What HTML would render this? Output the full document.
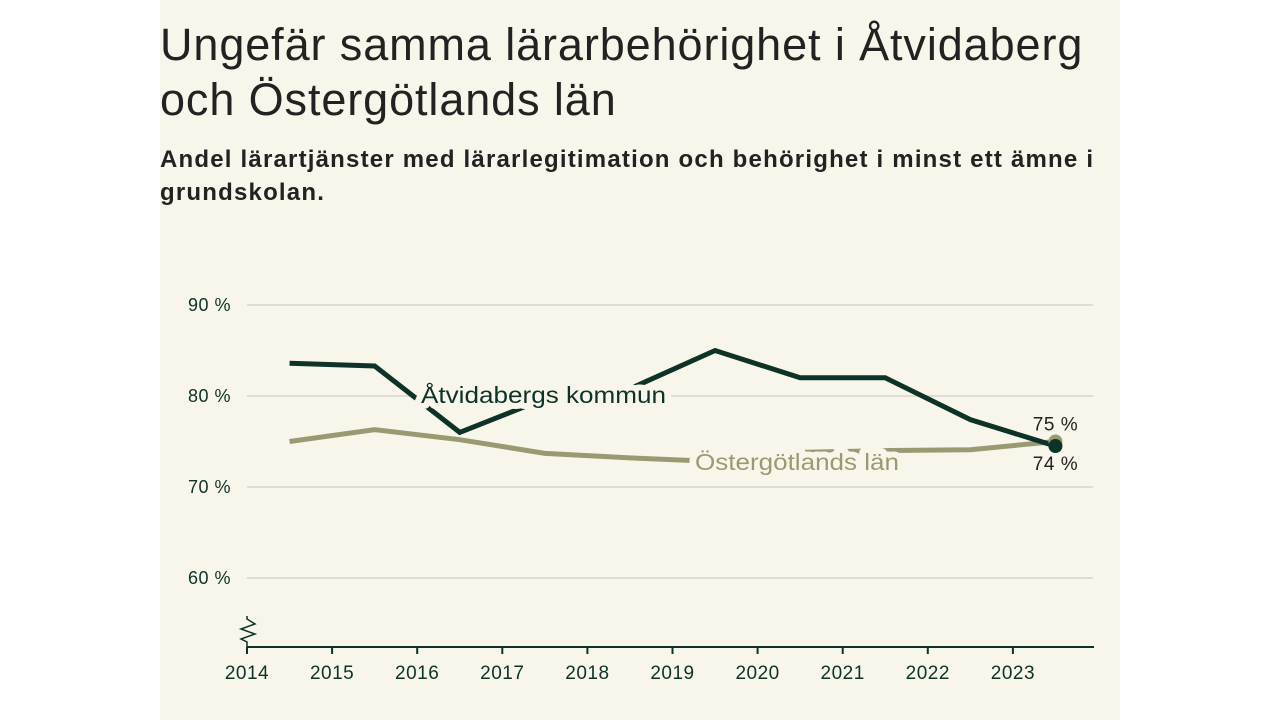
<!DOCTYPE html>
<html><head><meta charset="utf-8"><style>
body{margin:0;width:1280px;height:720px;background:#fff;font-family:"Liberation Sans",sans-serif;overflow:hidden}
#card{position:absolute;left:160px;top:0;width:960px;height:720px;background:#f8f6ea}
h1{position:absolute;left:0;top:17px;margin:0;font-size:45px;line-height:55px;font-weight:normal;color:#222;letter-spacing:0.9px;white-space:nowrap}
h2{position:absolute;left:0;top:143px;margin:0;font-size:24px;line-height:33px;font-weight:bold;color:#222;width:960px;letter-spacing:1.2px}
svg{position:absolute;left:0;top:0}
</style></head><body>
<div id="card">
<h1>Ungefär samma lärarbehörighet i Åtvidaberg<br>och Östergötlands län</h1>
<h2>Andel lärartjänster med lärarlegitimation och behörighet i minst ett ämne i grundskolan.</h2>
</div>
<svg id="chart" width="1280" height="720"></svg>
<script>
const years=[2014.5,2015.5,2016.5,2017.5,2018.5,2019.5,2020.5,2021.5,2022.5,2023.5];
const atvid=[83.6,83.3,76.0,79.7,80.8,85.0,82.0,82.0,77.4,74.5];
const ostg=[75.0,76.3,75.2,73.7,73.2,72.8,73.8,74.0,74.1,75.0];
const yTicks=[60,70,80,90];
const xTicks=[2014,2015,2016,2017,2018,2019,2020,2021,2022,2023];
const NS='http://www.w3.org/2000/svg';
const svg=document.getElementById('chart');
const x=v=>247+(v-2014)*85.1;
const y=v=>396-(v-80)*9.1;
const F='Liberation Sans, sans-serif';
function mk(t,a){const e=document.createElementNS(NS,t);for(const k in a)e.setAttribute(k,a[k]);svg.appendChild(e);return e;}
yTicks.forEach(t=>{
 const g=mk('line',{x1:247,x2:1093,y1:y(t),y2:y(t),stroke:'#dedcd4','stroke-width':2});
 
 
 const l=mk('text',{x:231,y:y(t)+6,'text-anchor':'end','font-size':18,fill:'#0d3328','font-family':F,'letter-spacing':0.5});
 l.textContent=t+' %';
 
 
});
const ax=mk('line',{x1:247,x2:1094,y1:647,y2:647,stroke:'#0d3328','stroke-width':2});


const br=mk('path',{d:'M247,616 L247,619 L255,624 L241,629 L255,634 L241,639 L247,642 L247,647',fill:'none',stroke:'#0d3328','stroke-width':1.5});


xTicks.forEach(t=>{
 const tk=mk('line',{x1:x(t),x2:x(t),y1:647,y2:654,stroke:'#0d3328','stroke-width':2});
 
 
 const l=mk('text',{x:x(t),y:679,'text-anchor':'middle','font-size':19,fill:'#0d3328','font-family':F,'letter-spacing':0.5});
 l.textContent=t;
 
 
});
function line(vals,col,name){
 const p=mk('polyline',{points:vals.map((v,i)=>x(years[i])+','+y(v)).join(' '),fill:'none',stroke:col,'stroke-width':5,'stroke-linejoin':'miter'});
 
 
}
line(ostg,'#9a9a72','line-ostergotland');
line(atvid,'#0d3328','line-atvidaberg');
function lab(tx,xx,yy,col,name,len){
 const t=mk('text',{x:xx,y:yy,'font-size':23,fill:col,'font-family':F,stroke:'#f8f6ea','stroke-width':12,'paint-order':'stroke','stroke-linejoin':'round',textLength:len,lengthAdjust:'spacingAndGlyphs'});
 t.textContent=tx;
 
 
}
lab('Åtvidabergs kommun',421,403,'#0d3328','label-atvidaberg',245);
lab('Östergötlands län',695,470,'#9a9a72','label-ostergotland',204);
const n=years.length-1;
const d1=mk('circle',{cx:x(years[n]),cy:y(ostg[n]),r:7,fill:'#9a9a72'});


const d2=mk('circle',{cx:x(years[n]),cy:y(atvid[n]),r:7,fill:'#0d3328'});


const v1=mk('text',{x:x(years[n])+0,y:y(ostg[n])-11,'text-anchor':'middle','font-size':19,fill:'#222','font-family':F,'letter-spacing':0.5});
v1.textContent=Math.round(ostg[n])+' %';


const v2=mk('text',{x:x(years[n])+0,y:y(atvid[n])+24,'text-anchor':'middle','font-size':19,fill:'#222','font-family':F,'letter-spacing':0.5});
v2.textContent=Math.floor(atvid[n])+' %';


</script>
</body></html>
